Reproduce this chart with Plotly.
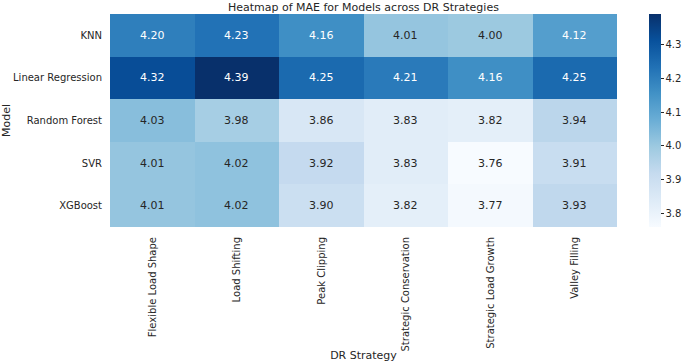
import plotly.graph_objects as go
import plotly.colors as pc

strategies = ["Flexible Load Shape", "Load Shifting", "Peak Clipping",
              "Strategic Conservation", "Strategic Load Growth", "Valley Filling"]
models = ["KNN", "Linear Regression", "Random Forest", "SVR", "XGBoost"]

knn = [4.20, 4.23, 4.16, 4.01, 4.00, 4.12]
linear_regression = [4.32, 4.39, 4.25, 4.21, 4.16, 4.25]
random_forest = [4.03, 3.98, 3.86, 3.83, 3.82, 3.94]
svr = [4.01, 4.02, 3.92, 3.83, 3.76, 3.91]
xgboost = [4.01, 4.02, 3.90, 3.82, 3.77, 3.93]

z = [knn, linear_regression, random_forest, svr, xgboost]
zmin = min(min(r) for r in z)
zmax = max(max(r) for r in z)

blues = pc.sequential.Blues
TEXT_DARK = "#262626"
FONT = "DejaVu Sans"

fig = go.Figure(go.Heatmap(
    z=z, x=strategies, y=models,
    colorscale=blues, zmin=zmin, zmax=zmax,
    xgap=0, ygap=0,
    colorbar=dict(
        thickness=12, len=1, lenmode="fraction", y=0.5, yanchor="middle",
        ypad=0, xpad=0,
        x=1.063, xanchor="left", outlinewidth=0,
        ticks="outside", ticklen=3, tickcolor=TEXT_DARK, tickwidth=1,
        tickvals=[3.8, 3.9, 4.0, 4.1, 4.2, 4.3], tickformat=".1f",
        tickfont=dict(size=10, color=TEXT_DARK, family=FONT),
    ),
    hoverinfo="skip",
))


def luminance(rgb_str):
    vals = [float(v) / 255 for v in rgb_str[rgb_str.index("(") + 1:-1].split(",")]
    lin = [v / 12.92 if v <= 0.03928 else ((v + 0.055) / 1.055) ** 2.4 for v in vals]
    return 0.2126 * lin[0] + 0.7152 * lin[1] + 0.0722 * lin[2]


annotations = []
for i, m in enumerate(models):
    for j, s in enumerate(strategies):
        v = z[i][j]
        c = pc.sample_colorscale(blues, [(v - zmin) / (zmax - zmin)])[0]
        color = TEXT_DARK if luminance(c) > 0.408 else "white"
        annotations.append(dict(
            x=s, y=m, text=f"{v:.2f}", showarrow=False,
            font=dict(size=11, color=color, family=FONT),
        ))

fig.update_layout(
    width=685, height=362,
    margin=dict(l=110, r=68, t=14, b=135, autoexpand=False),
    paper_bgcolor="white", plot_bgcolor="white",
    font=dict(family=FONT, color=TEXT_DARK, size=10),
    title=dict(text="Heatmap of MAE for Models across DR Strategies",
               x=0.5305, xanchor="center", y=0.99, yanchor="top",
               font=dict(size=11, color=TEXT_DARK, family=FONT)),
    annotations=annotations,
    xaxis=dict(tickangle=-90, showgrid=False, zeroline=False, showline=False,
               ticks="", ticklabelstandoff=7,
               tickfont=dict(size=10, color=TEXT_DARK),
               title=dict(text="DR Strategy", standoff=4,
                          font=dict(size=11, color=TEXT_DARK))),
    yaxis=dict(autorange="reversed", showgrid=False, zeroline=False, showline=False,
               ticks="", ticklabelstandoff=7,
               tickfont=dict(size=10, color=TEXT_DARK),
               title=dict(text="Model", standoff=4,
                          font=dict(size=11, color=TEXT_DARK))),
)

fig.write_html("out.html", config={"displayModeBar": False},
               post_script="document.body.style.margin='0';")
